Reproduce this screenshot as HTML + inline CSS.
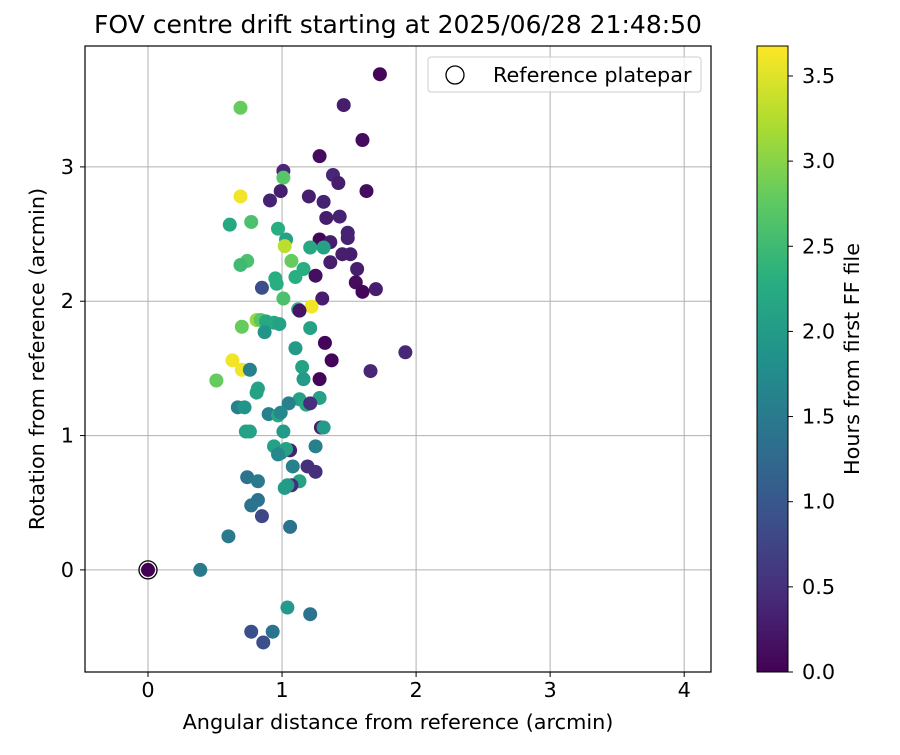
<!DOCTYPE html>
<html><head><meta charset="utf-8"><style>
body{margin:0;background:#fff;}
svg text{font-family:"DejaVu Sans","Liberation Sans",sans-serif;fill:#000;}
</style></head><body>
<svg id="chart" width="900" height="750" viewBox="0 0 900 750" xmlns="http://www.w3.org/2000/svg">
<defs>
<linearGradient id="vir" x1="0" y1="1" x2="0" y2="0">
<stop offset="0" stop-color="#440154"/><stop offset="0.125" stop-color="#472d7b"/><stop offset="0.25" stop-color="#3b528b"/><stop offset="0.375" stop-color="#2c728e"/><stop offset="0.5" stop-color="#21918c"/><stop offset="0.625" stop-color="#28ae80"/><stop offset="0.75" stop-color="#5ec962"/><stop offset="0.875" stop-color="#addc30"/><stop offset="1" stop-color="#fde725"/>
</linearGradient>
<clipPath id="pc"><rect x="85" y="46" width="626" height="626"/></clipPath>
</defs>
<text x="398" y="33" font-size="25" text-anchor="middle">FOV centre drift starting at 2025/06/28 21:48:50</text>
<g id="grid"></g>
<g id="points" clip-path="url(#pc)"></g>
<rect x="85" y="46" width="626" height="626" fill="none" stroke="#000" stroke-width="1.2"/>
<g id="ticks"></g>
<text x="398" y="729" font-size="20.8" text-anchor="middle">Angular distance from reference (arcmin)</text>
<text transform="translate(44,359) rotate(-90)" font-size="20.8" text-anchor="middle">Rotation from reference (arcmin)</text>
<g>
<rect x="428" y="57" width="273" height="35" rx="3" fill="#fff" fill-opacity="0.8" stroke="#ccc"/>
<circle cx="455" cy="75" r="9" fill="none" stroke="#000" stroke-width="1.3"/>
<text x="493" y="82" font-size="20.8">Reference platepar</text>
</g>
<rect x="757" y="46" width="31" height="626" fill="url(#vir)" stroke="#000" stroke-width="1"/>
<g id="cbticks"></g>
<text transform="translate(859,359) rotate(-90)" font-size="20.8" text-anchor="middle">Hours from first FF file</text>
</svg>
<script>
const xs=[1.73,1.46,0.69,1.60,1.28,1.01,1.01,1.38,1.42,1.63,0.99,0.69,0.91,1.20,1.31,1.33,1.43,0.61,0.77,0.97,1.03,1.02,1.28,1.36,1.49,1.49,1.21,1.31,1.07,1.51,1.45,1.36,0.74,0.69,1.16,1.10,1.25,1.56,1.55,1.60,1.70,0.95,0.96,0.85,1.01,1.30,1.22,1.12,1.13,0.81,0.84,0.88,0.94,0.98,0.70,0.87,1.21,1.32,1.10,0.63,1.37,0.70,0.76,1.15,1.92,1.66,0.51,1.16,1.28,0.82,0.81,0.67,0.72,1.13,1.18,1.28,1.21,0.90,1.05,0.97,0.99,1.29,1.31,0.73,0.76,1.01,0.94,0.99,1.06,1.03,0.97,1.25,1.08,1.19,1.25,1.13,1.07,1.04,1.02,0.74,0.82,0.82,0.77,0.85,1.06,0.60,0.39,0.00,1.04,1.21,0.77,0.93,0.86];
const ys=[3.69,3.46,3.44,3.20,3.08,2.97,2.92,2.94,2.88,2.82,2.82,2.78,2.75,2.78,2.74,2.62,2.63,2.57,2.59,2.54,2.46,2.41,2.46,2.44,2.51,2.47,2.40,2.40,2.30,2.35,2.35,2.29,2.30,2.27,2.24,2.18,2.19,2.24,2.14,2.07,2.09,2.17,2.13,2.10,2.02,2.02,1.96,1.94,1.93,1.86,1.86,1.85,1.84,1.83,1.81,1.77,1.80,1.69,1.65,1.56,1.56,1.49,1.49,1.51,1.62,1.48,1.41,1.42,1.42,1.35,1.32,1.21,1.21,1.27,1.23,1.28,1.24,1.16,1.24,1.15,1.17,1.06,1.06,1.03,1.03,1.03,0.92,0.87,0.89,0.90,0.86,0.92,0.77,0.77,0.73,0.66,0.63,0.63,0.61,0.69,0.66,0.52,0.48,0.40,0.32,0.25,0.00,0.00,-0.28,-0.33,-0.46,-0.46,-0.54];
const hours=[0.05,0.3,2.8,0.1,0.1,0.4,2.7,0.4,0.3,0.1,0.3,3.6,0.35,0.3,0.35,0.3,0.35,2.2,2.6,2.3,2.1,3.3,0.05,0.3,0.35,0.35,2.2,2.1,2.8,0.3,0.3,0.3,2.6,2.5,2.3,2.3,0.15,0.3,0.1,0.05,0.3,2.3,2.3,0.9,2.6,0.3,3.6,2.3,0.2,3.1,2.7,2.2,2.2,2.1,2.8,1.9,2.1,0.05,2.0,3.6,0.05,3.6,1.6,2.1,0.4,0.4,2.8,2.0,0.05,2.1,2.1,1.6,1.9,2.1,2.2,2.1,0.5,1.6,1.6,2.2,1.7,0.3,2.0,2.1,2.1,2.0,2.1,1.7,0.35,2.1,1.7,1.6,1.6,0.5,0.5,2.1,0.45,2.0,2.0,1.4,1.5,1.4,1.4,0.8,1.4,1.5,1.5,0.0,2.0,1.4,0.9,1.4,0.9];
const xTicks=[0,1,2,3,4];
const yTicks=[0,1,2,3];
const cTicks=[0,0.5,1,1.5,2,2.5,3,3.5];
const xMin=-0.47,xMax=4.2,yMin=-0.76,yMax=3.90,cMax=3.676;
const L=85,R=711,T=46,B=672;
const X=v=>L+(v-xMin)/(xMax-xMin)*(R-L);
const Y=v=>B-(v-yMin)/(yMax-yMin)*(B-T);
const C=v=>672-v/cMax*626;
const stops=["#440154","#472d7b","#3b528b","#2c728e","#21918c","#28ae80","#5ec962","#addc30","#fde725"];
function hex(h){return [1,3,5].map(i=>parseInt(h.substr(i,2),16));}
function vir(t){t=Math.max(0,Math.min(1,t));const s=t*8,i=Math.min(7,Math.floor(s)),f=s-i;const a=hex(stops[i]),b=hex(stops[i+1]);return "rgb("+a.map((c,k)=>Math.round(c+(b[k]-c)*f)).join(",")+")";}
const NS="http://www.w3.org/2000/svg";
function mk(tag,attrs,parent){const e=document.createElementNS(NS,tag);for(const k in attrs)e.setAttribute(k,attrs[k]);parent.appendChild(e);return e;}
const grid=document.getElementById("grid"),ticks=document.getElementById("ticks"),pts=document.getElementById("points"),cb=document.getElementById("cbticks");
xTicks.forEach(v=>{const x=X(v);
const g=mk("line",{x1:x,x2:x,y1:T,y2:B,stroke:"#b0b0b0","stroke-width":1},grid);


const t=mk("line",{x1:x,x2:x,y1:B,y2:B+5,stroke:"#000"},ticks);


const l=mk("text",{x:x,y:B+25,"font-size":20.8,"text-anchor":"middle"},ticks);l.textContent=v;

});
yTicks.forEach(v=>{const y=Y(v);
const g=mk("line",{x1:L,x2:R,y1:y,y2:y,stroke:"#b0b0b0","stroke-width":1},grid);


const t=mk("line",{x1:L-5,x2:L,y1:y,y2:y,stroke:"#000"},ticks);


const l=mk("text",{x:L-11,y:y+7,"font-size":20.8,"text-anchor":"end"},ticks);l.textContent=v;

});
cTicks.forEach(v=>{const y=C(v);
const t=mk("line",{x1:788,x2:793,y1:y,y2:y,stroke:"#000"},cb);


const l=mk("text",{x:802,y:y+7,"font-size":20.8},cb);l.textContent=v.toFixed(1);

});
xs.forEach((v,i)=>{const c=mk("circle",{cx:X(v),cy:Y(ys[i]),r:7,fill:vir(hours[i]/cMax)},pts);

});
const ref=mk("circle",{cx:X(0),cy:Y(0),r:9,fill:"none",stroke:"#000","stroke-width":1.3},pts);


</script>
</body></html>
